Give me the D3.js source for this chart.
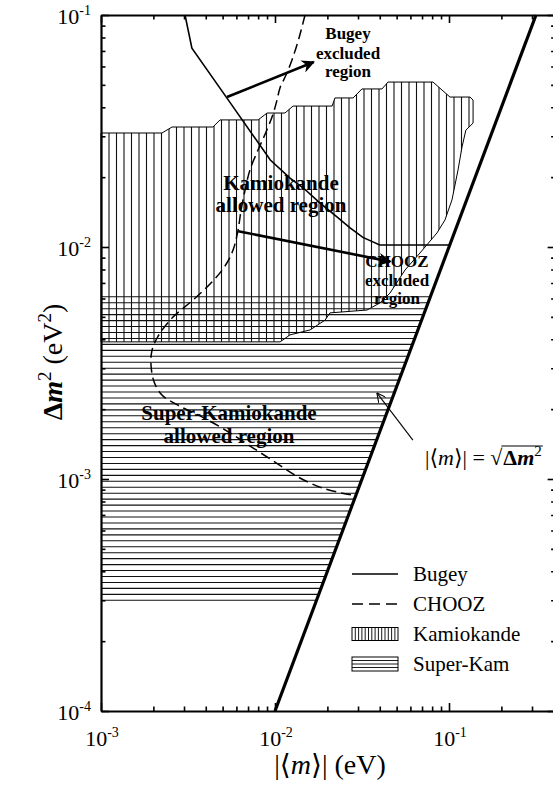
<!DOCTYPE html>
<html>
<head>
<meta charset="utf-8">
<script src="https://cdn.jsdelivr.net/npm/d3@7"></script>
<style>
  body { margin: 0; background: #fff; }
  svg { display: block; }
  text { font-family: "Liberation Serif", "Times New Roman", "DejaVu Serif", serif; fill: #000; }
</style>
</head>
<body>
<svg id="chart" width="553" height="789"></svg>
<script>
// Axis limits (|<m>| in eV, delta m^2 in eV^2)
const massDomain = [1e-3, 0.41];
const dm2Domain = [1e-4, 1e-1];
const massDecades = [-3, -2, -1];
const dm2Decades = [-4, -3, -2, -1];

// Bugey exclusion contour
const bugeyMass = [0.00304, 0.00333, 0.0056, 0.0094, 0.0122, 0.0145, 0.0181, 0.0227, 0.027, 0.032, 0.040, 0.101];
const bugeyDm2  = [0.1, 0.072, 0.0413, 0.0237, 0.0198, 0.018, 0.0155, 0.0135, 0.0121, 0.011, 0.0102, 0.0102];

// CHOOZ exclusion contour
const choozMass = [0.01488, 0.01374, 0.01252, 0.01157, 0.01068, 0.01027, 0.00974, 0.00888, 0.00799, 0.00718,
                   0.00673, 0.00638, 0.00613, 0.00574, 0.00516, 0.00434, 0.00338, 0.00256, 0.00213, 0.00196,
                   0.00194, 0.00202, 0.00224, 0.00277, 0.00371, 0.00516, 0.00738, 0.0104, 0.0139, 0.0194, 0.0277];
const choozDm2  = [0.1, 0.0796, 0.064, 0.0551, 0.0485, 0.043, 0.0374, 0.0313, 0.0262, 0.0215,
                   0.0176, 0.0144, 0.0118, 0.0097, 0.00828, 0.00706, 0.00591, 0.00494, 0.00413, 0.00356,
                   0.00307, 0.00262, 0.00230, 0.00208, 0.00187, 0.00163, 0.00137, 0.00116, 0.00101, 0.000906, 0.000853];

// Kamiokande allowed region boundary
const kamMass = [0.001, 0.00224, 0.00256, 0.0044, 0.00483, 0.0080, 0.0090, 0.0114, 0.0127, 0.0213,
                 0.0221, 0.0281, 0.0316, 0.0412, 0.0446, 0.0809, 0.1013, 0.132, 0.1375, 0.1375,
                 0.125, 0.1188, 0.1127, 0.104, 0.0948, 0.0853, 0.0681, 0.0559, 0.0458, 0.0401,
                 0.0338, 0.0207, 0.0194, 0.0159, 0.0122, 0.0107, 0.001];
const kamDm2  = [0.0310, 0.0310, 0.0329, 0.0329, 0.0353, 0.0353, 0.0378, 0.0378, 0.0405, 0.0405,
                 0.0439, 0.0439, 0.048, 0.048, 0.0514, 0.0514, 0.0443, 0.0443, 0.043, 0.0342,
                 0.0319, 0.027, 0.0215, 0.01595, 0.01307, 0.0115, 0.00942, 0.00796, 0.00633, 0.00574,
                 0.00535, 0.0052, 0.00484, 0.00439, 0.00418, 0.0039, 0.0039];

// Super-Kamiokande allowed band: left edge, lower and upper delta m^2
const superKamMassMin = 0.001;
const superKamDm2 = [3.0e-4, 6.1e-3];

// |<m>| = sqrt(delta m^2) boundary
const boundMass = [0.01, 0.3162];
const boundDm2 = [1e-4, 0.1];

// Legend
const legendLabels = ["Bugey", "CHOOZ", "Kamiokande", "Super-Kam"];

const svg = d3.select("#chart");

const x = d3.scaleLog().domain(massDomain)
  .range([101, 101 + 174 * Math.log10(massDomain[1] / massDomain[0])]);
const y = d3.scaleLog().domain(dm2Domain).range([711, 15]);

const line = d3.line().x(d => x(d[0])).y(d => y(d[1]));

// ---- Super-Kamiokande horizontal hatching (runs up to the sqrt boundary)
const skTop = y(superKamDm2[1]), skBot = y(superKamDm2[0]);
const skN = Math.round((skBot - skTop) / 6);
const skRows = d3.range(skN + 1).map(k => skTop + k * (skBot - skTop) / skN);
svg.append("g").selectAll("line").data(skRows).join("line")
  .attr("x1", x(superKamMassMin))
  .attr("x2", py => x(Math.sqrt(y.invert(py))))
  .attr("y1", py => py).attr("y2", py => py)
  .attr("stroke", "#111").attr("stroke-width", 1.1);

// ---- Kamiokande vertical hatching clipped to its region
const kamPts = kamMass.map((m, i) => [m, kamDm2[i]]);
svg.append("clipPath").attr("id", "kamClip")
  .append("path").attr("d", line(kamPts) + "Z");
const kx0 = x(kamMass[0]);
const kxMax = x(d3.max(kamMass));
const kamCols = d3.range(kx0 + 0.5, kxMax + 1, 7.5);
const kyTop = y(d3.max(kamDm2)), kyBot = y(d3.min(kamDm2));
svg.append("g").attr("clip-path", "url(#kamClip)")
  .selectAll("line").data(kamCols).join("line")
  .attr("x1", d => d).attr("x2", d => d)
  .attr("y1", kyTop - 2).attr("y2", kyBot + 2)
  .attr("stroke", "#111").attr("stroke-width", 1.1);
svg.append("path").attr("d", line(kamPts) + "Z")
  .attr("fill", "none").attr("stroke", "#000").attr("stroke-width", 1);

// ---- |<m>| = sqrt(dm2) boundary
svg.append("path").attr("d", line(boundMass.map((m, i) => [m, boundDm2[i]])))
  .attr("fill", "none").attr("stroke", "#000").attr("stroke-width", 3.2);

// ---- Bugey contour
svg.append("path").attr("d", line(bugeyMass.map((m, i) => [m, bugeyDm2[i]])))
  .attr("fill", "none").attr("stroke", "#000").attr("stroke-width", 1.6);

// ---- CHOOZ contour
svg.append("path")
  .attr("d", d3.line().curve(d3.curveCatmullRom).x(d => x(d[0])).y(d => y(d[1]))(choozMass.map((m, i) => [m, choozDm2[i]])))
  .attr("fill", "none").attr("stroke", "#000").attr("stroke-width", 1.5)
  .attr("stroke-dasharray", "10,5");

// ---- Arrows
const defs = svg.append("defs");
defs.append("marker").attr("id", "headFilled")
  .attr("viewBox", "0 0 10 10").attr("refX", 9).attr("refY", 5)
  .attr("markerWidth", 6).attr("markerHeight", 5).attr("markerUnits", "strokeWidth")
  .attr("orient", "auto")
  .append("path").attr("d", "M0,0 L10,5 L0,10 L3,5 Z").attr("fill", "#000");
defs.append("marker").attr("id", "headOpen")
  .attr("viewBox", "0 0 10 10").attr("refX", 10).attr("refY", 5)
  .attr("markerWidth", 9).attr("markerHeight", 9).attr("markerUnits", "userSpaceOnUse")
  .attr("orient", "auto")
  .append("path").attr("d", "M0,0 L10,5 L0,10").attr("fill", "none").attr("stroke", "#000").attr("stroke-width", 1.2);

function arrow(m0, d0, m1, d1, w, head) {
  svg.append("line")
    .attr("x1", x(m0)).attr("y1", y(d0)).attr("x2", x(m1)).attr("y2", y(d1))
    .attr("stroke", "#000").attr("stroke-width", w)
    .attr("marker-end", `url(#${head})`);
}
arrow(0.0053, 0.0443, 0.0167, 0.0627, 2.6, "headFilled");
arrow(0.00615, 0.0117, 0.0460, 0.00865, 2.6, "headFilled");
arrow(0.062, 0.00147, 0.0385, 0.00235, 1.1, "headOpen");

// ---- Region annotations
function block(cx, baselines, lines, size) {
  const t = svg.append("text").attr("text-anchor", "middle")
    .attr("font-weight", "bold").attr("font-size", size);
  lines.forEach((s, i) => t.append("tspan").attr("x", cx).attr("y", baselines[i]).text(s));
}
block(348, [39, 59, 77], ["Bugey", "excluded", "region"], 17);
block(397, [267, 286, 304], ["CHOOZ", "excluded", "region"], 17);
block(281, [190, 212], ["Kamiokande", "allowed region"], 21);
block(229, [420, 443], ["Super-Kamiokande", "allowed region"], 21);

// ---- Formula label
const fx = 425, fy = 465;
const f = svg.append("text").attr("x", fx).attr("y", fy).attr("font-size", 22);
f.append("tspan").text("|\u27E8");
f.append("tspan").attr("font-style", "italic").text("m");
f.append("tspan").text("\u27E9| = \u221A");
const fw = f.node().getComputedTextLength();
const g2 = svg.append("text").attr("x", fx + fw + 1).attr("y", fy).attr("font-size", 22);
g2.append("tspan").attr("font-weight", "bold").text("\u0394");
g2.append("tspan").attr("font-style", "italic").attr("font-weight", "bold").text("m");
g2.append("tspan").attr("font-size", 15).attr("dy", -9).text("2");
const gw = g2.node().getComputedTextLength();
svg.append("line").attr("x1", fx + fw - 1).attr("x2", fx + fw + 1 + gw + 1)
  .attr("y1", fy - 19).attr("y2", fy - 19).attr("stroke", "#000").attr("stroke-width", 1.2);

// ---- Axes
const minorX = x.ticks().filter(v => Math.abs(Math.log10(v) - Math.round(Math.log10(v))) > 1e-6);
const majorX = massDecades.map(e => Math.pow(10, e));
const minorY = y.ticks().filter(v => Math.abs(Math.log10(v) - Math.round(Math.log10(v))) > 1e-6);
const majorY = dm2Decades.map(e => Math.pow(10, e));
const xRight = x.range()[1];

function styleAxis(g, keepDomain) {
  g.selectAll(".tick line").attr("stroke", "#000").attr("stroke-width", 1.6);
  if (keepDomain) g.select(".domain").attr("stroke", "#000").attr("stroke-width", 2.2);
  else g.select(".domain").remove();
  g.selectAll(".tick text").remove();
}
const axes = [
  [d3.axisBottom(x), `translate(0,${y.range()[0]})`, minorX, majorX],
  [d3.axisTop(x), `translate(0,${y.range()[1]})`, minorX, majorX],
  [d3.axisLeft(y), `translate(${x.range()[0]},0)`, minorY, majorY],
  [d3.axisRight(y), `translate(${xRight},0)`, minorY, majorY]
];
axes.forEach(([ax, tr, mn, mj]) => {
  svg.append("g").attr("transform", tr)
    .call(ax.tickValues(mn).tickSize(-4.5).tickSizeOuter(0).tickFormat(""))
    .call(g => styleAxis(g, true));
  svg.append("g").attr("transform", tr)
    .call(ax.tickValues(mj).tickSize(-8).tickSizeOuter(0).tickFormat(""))
    .call(g => styleAxis(g, false));
});

// Tick labels as 10^n
function powLabel(sel, e) {
  sel.append("tspan").text("10");
  sel.append("tspan").attr("font-size", 14).attr("dy", -9).text(String(e));
}
massDecades.forEach(e => {
  const t = svg.append("text").attr("x", x(Math.pow(10, e)) + 1).attr("y", 746)
    .attr("text-anchor", "middle").attr("font-size", 22);
  powLabel(t, e);
});
dm2Decades.forEach(e => {
  const t = svg.append("text").attr("x", 91).attr("y", y(Math.pow(10, e)) + 9)
    .attr("text-anchor", "end").attr("font-size", 22);
  powLabel(t, e);
});

// Axis titles
const xt = svg.append("text").attr("x", 330).attr("y", 774)
  .attr("text-anchor", "middle").attr("font-size", 28);
xt.append("tspan").text("|\u27E8");
xt.append("tspan").attr("font-style", "italic").text("m");
xt.append("tspan").text("\u27E9| (eV)");

const yt = svg.append("text").attr("transform", "translate(62,362) rotate(-90)")
  .attr("text-anchor", "middle").attr("font-size", 28);
yt.append("tspan").attr("font-weight", "bold").text("\u0394");
yt.append("tspan").attr("font-style", "italic").attr("font-weight", "bold").text("m");
yt.append("tspan").attr("font-size", 19).attr("dy", -11).text("2");
yt.append("tspan").attr("dy", 11).text(" (eV");
yt.append("tspan").attr("font-size", 19).attr("dy", -11).text("2");
yt.append("tspan").attr("dy", 11).text(")");

// ---- Legend
const lg = svg.append("g");
const lx0 = 352, lx1 = 398, ltx = 413;
const rowY = [574, 604, 634, 664];
lg.append("line").attr("x1", lx0).attr("x2", lx1).attr("y1", rowY[0]).attr("y2", rowY[0])
  .attr("stroke", "#000").attr("stroke-width", 1.6);
lg.append("line").attr("x1", lx0).attr("x2", lx1).attr("y1", rowY[1]).attr("y2", rowY[1])
  .attr("stroke", "#000").attr("stroke-width", 1.6).attr("stroke-dasharray", "11,6");
// Kamiokande swatch
lg.append("rect").attr("x", lx0).attr("y", rowY[2] - 6.5).attr("width", lx1 - lx0).attr("height", 13)
  .attr("fill", "#fff").attr("stroke", "#000").attr("stroke-width", 1);
lg.selectAll(".kv").data(d3.range(lx0 + 3.3, lx1, 3.3)).join("line").attr("class", "kv")
  .attr("x1", d => d).attr("x2", d => d).attr("y1", rowY[2] - 6.5).attr("y2", rowY[2] + 6.5)
  .attr("stroke", "#000").attr("stroke-width", 0.9);
// Super-Kam swatch
lg.append("rect").attr("x", lx0).attr("y", rowY[3] - 7).attr("width", lx1 - lx0).attr("height", 14)
  .attr("fill", "#fff").attr("stroke", "#000").attr("stroke-width", 1);
lg.selectAll(".sh").data(d3.range(rowY[3] - 7 + 3.5, rowY[3] + 7, 3.5)).join("line").attr("class", "sh")
  .attr("x1", lx0).attr("x2", lx1).attr("y1", d => d).attr("y2", d => d)
  .attr("stroke", "#000").attr("stroke-width", 0.9);
lg.selectAll(".lt").data(legendLabels).join("text").attr("class", "lt")
  .attr("x", ltx).attr("y", (d, i) => rowY[i] + 7).attr("font-size", 21).text(d => d);
</script>
</body>
</html>
